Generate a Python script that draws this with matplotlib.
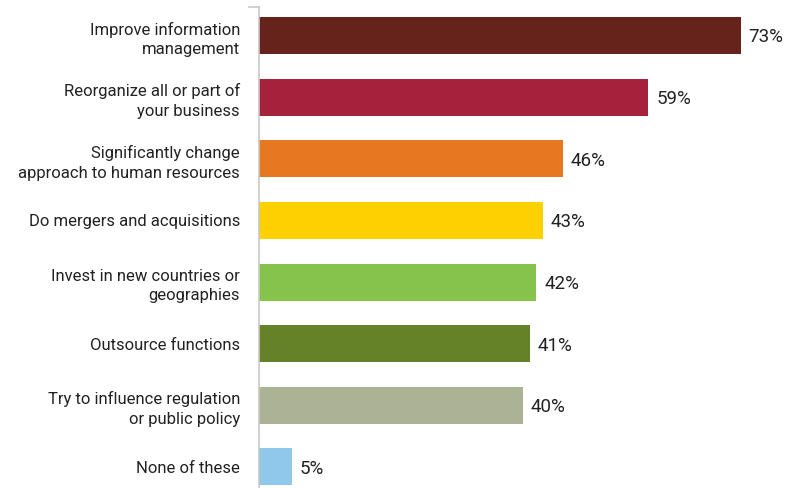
import matplotlib
matplotlib.use('Agg')
import matplotlib.pyplot as plt

plt.rcParams['font.family'] = ['Roboto', 'DejaVu Sans']

labels = [
    "Improve information\nmanagement",
    "Reorganize all or part of\nyour business",
    "Significantly change\napproach to human resources",
    "Do mergers and acquisitions",
    "Invest in new countries or\ngeographies",
    "Outsource functions",
    "Try to influence regulation\nor public policy",
    "None of these",
]
values = [73, 59, 46, 43, 42, 41, 40, 5]
colors = ["#65231c", "#a6213b", "#e87722", "#ffd100", "#86c34a", "#658229", "#abb394", "#8fc8ea"]

fig = plt.figure(figsize=(8.02, 4.88), dpi=100)
ax = fig.add_axes([259 / 802, 0, 543 / 802, 1])

pos = list(range(len(values)))
ax.barh(pos, values, height=0.6, color=colors, zorder=2)

ax.set_xlim(0, 543 / 6.6)
ax.set_ylim(7.341, -0.576)

for p, v in zip(pos, values):
    ax.text(v + 1.2, p + 0.03, f"{v}%", va='center', ha='left', fontsize=13.5, color='#222222')

ax.set_yticks(pos)
ax.set_yticklabels(labels, fontsize=12, color='#222222', linespacing=1.4)
ax.tick_params(axis='y', length=0, pad=13.7)
ax.set_xticks([])

for s in ['top', 'right', 'bottom']:
    ax.spines[s].set_visible(False)
ax.spines['left'].set_color('#c8c8c8')
ax.spines['left'].set_linewidth(1.2)
ax.spines['left'].set_bounds(-0.462, 7.341)
# little tick at the top of the axis line
ax.plot([-10 / 6.6, 0], [-0.462, -0.462], color='#c8c8c8', lw=1.2, clip_on=False)

fig.savefig('out.png', dpi=100)
